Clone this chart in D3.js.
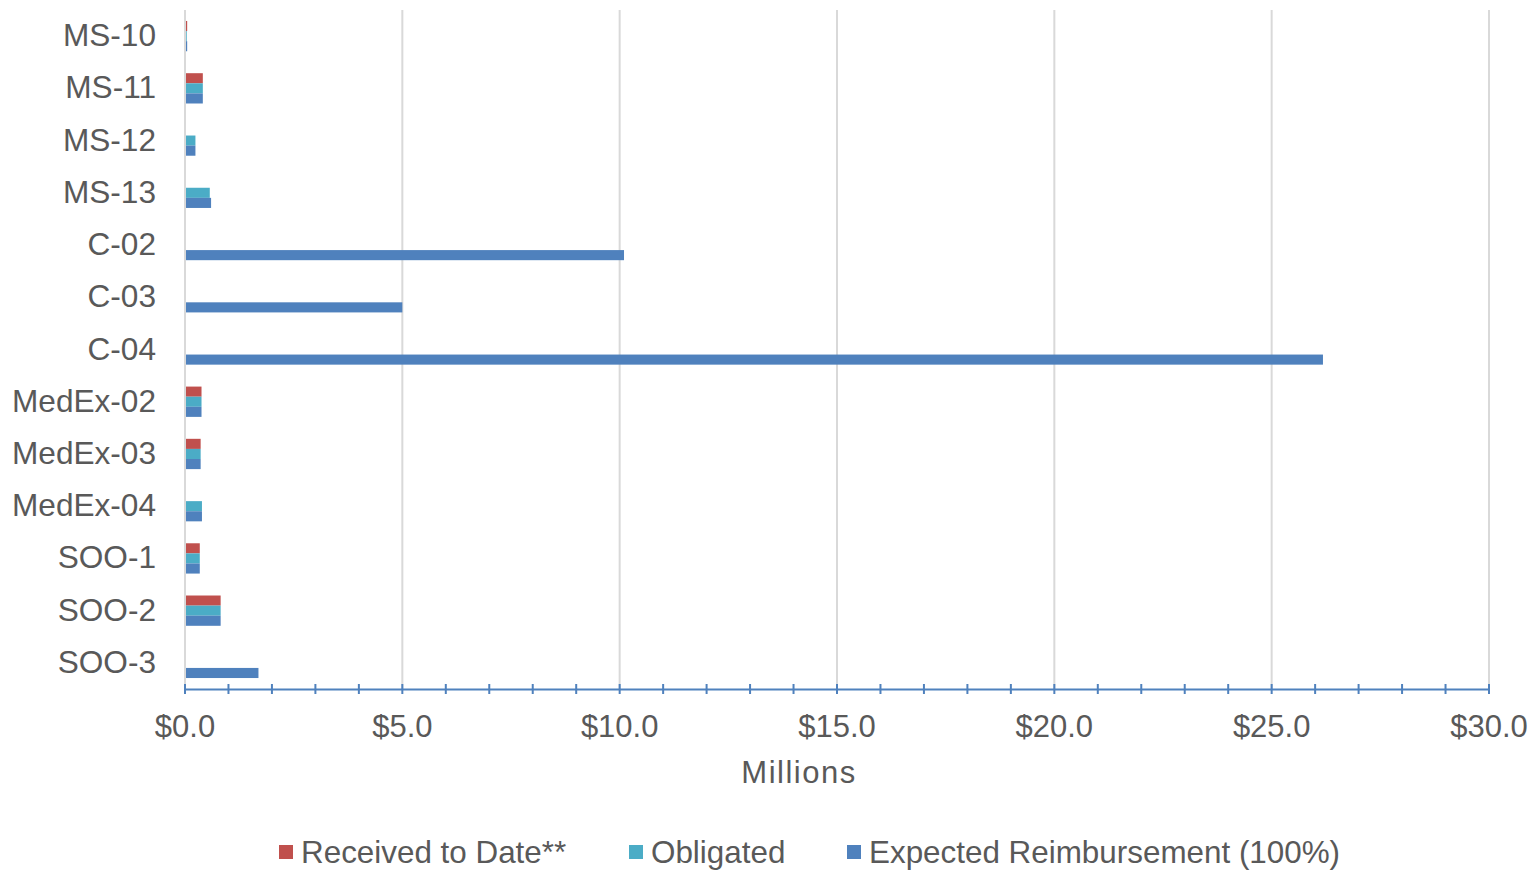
<!DOCTYPE html>
<html><head><meta charset="utf-8">
<script src="https://cdn.jsdelivr.net/npm/d3@7"></script>
<style>body{margin:0;background:#fff;} svg text{font-family:"Liberation Sans",Arial,sans-serif;}</style>
</head><body><svg id="c" width="1531" height="870" font-family="Liberation Sans, Arial, sans-serif"></svg>
<script>
const categories = ["MS-10","MS-11","MS-12","MS-13","C-02","C-03","C-04","MedEx-02","MedEx-03","MedEx-04","SOO-1","SOO-2","SOO-3"];
const received = [0.05,0.41,0,0,0,0,0,0.38,0.36,0,0.34,0.82,0];
const obligated = [0.04,0.41,0.24,0.57,0,0,0,0.38,0.36,0.39,0.34,0.82,0];
const expected = [0.05,0.41,0.24,0.60,10.1,5.0,26.18,0.38,0.36,0.39,0.34,0.82,1.69];
const seriesNames = ["Received to Date**","Obligated","Expected Reimbursement (100%)"];
const seriesColors = ["#C0504D","#4BACC6","#4F81BD"];
const majorTicks = [0,5,10,15,20,25,30];

const svg = d3.select("#c");
const L=185,R=1489,T=10,B=689;
const x = d3.scaleLinear().domain([0,30]).range([L,R]);
const y = d3.scaleBand().domain(categories).range([T,B]).paddingInner(0.42).paddingOuter(0.21);
const sub = d3.scaleBand().domain([0,1,2]).range([0,y.bandwidth()]);
const txt="#595959";

svg.append("g").selectAll("line").data(majorTicks).join("line")
  .attr("x1",d=>x(d)).attr("x2",d=>x(d)).attr("y1",T).attr("y2",B)
  .attr("stroke","#d9d9d9").attr("stroke-width",2);

const series=[received,obligated,expected];
series.forEach((vals,si)=>{
  svg.append("g").selectAll("rect").data(vals).join("rect")
    .attr("x",x(0)+1).attr("y",(d,i)=>y(categories[i])+sub(si))
    .attr("width",d=>Math.max(0,x(d)-x(0)-1)).attr("height",sub.bandwidth())
    .attr("fill",seriesColors[si]);
});

const ax = d3.axisBottom(x).tickValues(d3.range(0,31,1)).tickSize(0).tickFormat("");
const g = svg.append("g").attr("transform",`translate(0,${B})`).call(ax);
g.select(".domain").attr("stroke","#4F81BD").attr("stroke-width",2);
g.selectAll(".tick line").remove();
g.selectAll(".tk").data(d3.range(0,31,1)).join("line")
  .attr("x1",d=>x(d)).attr("x2",d=>x(d)).attr("y1",-5).attr("y2",5)
  .attr("stroke","#4F81BD").attr("stroke-width",2);
svg.append("g").selectAll("text").data(majorTicks).join("text")
  .attr("x",d=>x(d)).attr("y",737).attr("text-anchor","middle")
  .attr("font-size",31).attr("fill",txt).text(d=>"$"+d3.format(".1f")(d));
svg.append("text").attr("x",799).attr("y",783).attr("text-anchor","middle")
  .attr("font-size",31).attr("letter-spacing",1.5).attr("fill",txt).text("Millions");

svg.append("g").selectAll("text").data(categories).join("text")
  .attr("x",156).attr("y",d=>y(d)+y.bandwidth()/2-1).attr("dy","0.35em")
  .attr("text-anchor","end").attr("font-size",31.6).attr("fill",txt).text(d=>d);

const lx=[279,629,847];
seriesNames.forEach((n,i)=>{
  svg.append("rect").attr("x",lx[i]).attr("y",845).attr("width",14).attr("height",14).attr("fill",seriesColors[i]);
  svg.append("text").attr("x",lx[i]+22).attr("y",852).attr("dy","0.35em")
    .attr("font-size",31.4).attr("fill",txt).text(n);
});
</script></body></html>
